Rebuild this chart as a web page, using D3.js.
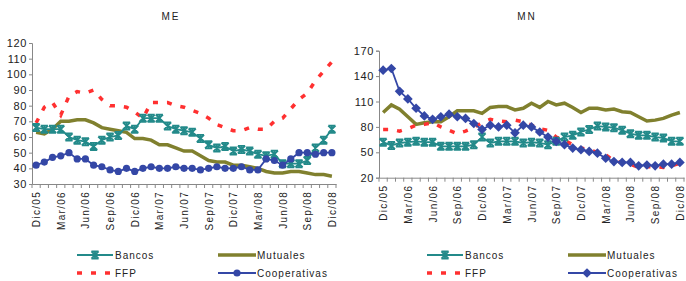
<!DOCTYPE html>
<html lang="es">
<head>
<meta charset="UTF-8">
<title>ME / MN</title>
<script src="https://cdn.jsdelivr.net/npm/d3@7/dist/d3.min.js"></script>
<style>
  body { margin: 0; background: #fff; }
  text { font-family: "Liberation Sans", Arial, sans-serif; fill: #222; }
</style>
</head>
<body>
<svg width="686" height="281"></svg>
<script>
// datos: meses Dic/05 .. Dic/08
var meses = ["Ene","Feb","Mar","Abr","May","Jun","Jul","Ago","Sep","Oct","Nov","Dic"];
var periodos = [];
for (var k = 0; k < 37; k++) {
  var m = (11 + k) % 12, a = 5 + Math.floor((11 + k) / 12);
  periodos.push(meses[m] + "/0" + a);
}
var series = ["Bancos", "Mutuales", "FFP", "Cooperativas"];

// ME
var meBancos = [66,65,65,65,60,58,57,54,58,60,61,67,65,72,72,72,67,65,64,63,59,55,53,54,51,52,51,49,48,49,43,43,43,45,53,58,65];
var meMutuales = [63,62,65,70,70,71,71,69,66,65,64,63,59,59,58,55,55,53,51,51,48,45,44,44,42,42,41,40,38,37,37,38,38,37,36,36,35];
var meFFP = [69,79,82,74,86,89,88,90,84,80,80,79,76,72,82,82,82,80,79,77,75,72,68,66,64,64,66,65,65,70,72,78,84,88,96,102,108];
var meCoop = [42,44,47,48,50,46,46,42,41,39,38,40,38,40,41,40,40,41,40,40,39,40,41,40,40,41,39,39,46,45,42,46,50,50,49,50,50];

// MN
var mnBancos = [62,58,61,62,63,62,62,57,57,57,57,59,68,61,63,63,63,61,62,61,59,63,68,70,74,77,81,80,79,76,72,70,70,68,67,63,63];
var mnMutuales = [97,106,101,92,83,85,86,86,92,99,99,99,96,103,104,104,100,102,108,103,110,106,108,103,97,102,102,100,101,98,97,92,87,88,90,94,97];
var mnFFP = [77,77,75,78,82,83,85,80,76,72,75,79,85,89,87,86,88,86,82,78,76,68,64,59,55,53,50,47,40,38,36,32,33,33,32,34,37];
var mnCoop = [147,149,122,113,102,93,89,92,95,92,90,84,77,82,80,82,73,82,80,74,68,63,59,55,53,51,49,43,39,38,38,34,35,34,36,36,38];

var ejeME = [30,40,50,60,70,80,90,100,110,120];
var ejeMN = [20,50,80,110,140,170];

var colores = {Bancos: "#238a8a", Mutuales: "#80802e", FFP: "#ff3030", Cooperativas: "#3447a6"};

var svg = d3.select("svg");

function estrella(s) {
  return "M" + (-s) + "," + (-s) + "L" + s + "," + s +
         "M" + (-s) + "," + s + "L" + s + "," + (-s) +
         "M0," + (-s) + "L0," + s +
         "M" + (-s) + "," + (-s) + "L" + s + "," + (-s) +
         "M" + (-s) + "," + s + "L" + s + "," + s;
}

function marcador(g, tipo, x, y) {
  if (tipo === "Bancos") {
    g.append("path").attr("d", estrella(3.6))
      .attr("transform", "translate(" + x + "," + y + ")")
      .attr("stroke", colores.Bancos).attr("stroke-width", 1.8).attr("fill", "none");
  } else if (tipo === "circulo") {
    g.append("circle").attr("cx", x).attr("cy", y).attr("r", 3.6)
      .attr("fill", colores.Cooperativas);
  } else if (tipo === "rombo") {
    g.append("path").attr("d", d3.symbol(d3.symbolDiamond2, 60)())
      .attr("transform", "translate(" + x + "," + y + ")")
      .attr("fill", colores.Cooperativas);
  }
}

function panel(cfg) {
  var g = svg.append("g");
  var x = d3.scaleBand().domain(periodos).range([cfg.x0, cfg.x1]).padding(0);
  var y = d3.scaleLinear().domain([cfg.ticks[0], cfg.ticks[cfg.ticks.length - 1]]).range([cfg.yb, cfg.yt]);
  var cx = function (i) { return x(periodos[i]) + x.bandwidth() / 2; };

  // titulo
  g.append("text").attr("x", cfg.tx).attr("y", 20).attr("text-anchor", "middle")
    .style("font-size", "10px").style("letter-spacing", "2px").text(cfg.titulo);

  // eje y
  var ay = g.append("g").attr("transform", "translate(" + cfg.x0 + ",0)")
    .call(d3.axisLeft(y).tickValues(cfg.ticks).tickSize(3).tickPadding(2));
  ay.select(".domain").attr("stroke", "#888");
  ay.selectAll(".tick line").attr("stroke", "#888");
  ay.selectAll("text").style("font-size", "11px").style("letter-spacing", "0.6px").attr("fill", "#222");

  // eje x
  var ax = g.append("g").attr("transform", "translate(0," + cfg.yb + ")")
    .call(d3.axisBottom(x).tickValues([]).tickSizeOuter(0));
  ax.select(".domain").attr("stroke", "#888");
  ax.selectAll(".tickm").data(periodos.concat(["fin"])).enter().append("line")
    .attr("x1", function (d, i) { return cfg.x0 + i * x.bandwidth(); })
    .attr("x2", function (d, i) { return cfg.x0 + i * x.bandwidth(); })
    .attr("y1", 0).attr("y2", 4).attr("stroke", "#888");
  ax.selectAll(".lbl").data(periodos.filter(function (d, i) { return i % 3 === 0; }))
    .enter().append("text")
    .attr("transform", function (d) { return "translate(" + (x(d) + x.bandwidth() / 2 + 4) + ",7) rotate(-90)"; })
    .attr("text-anchor", "end")
    .style("font-size", "10px").style("letter-spacing", "1.3px")
    .text(function (d) { return d; });

  var linea = d3.line().x(function (d, i) { return cx(i); }).y(function (d) { return y(d); });

  g.append("path").datum(cfg.mutuales).attr("d", linea).attr("fill", "none")
    .attr("stroke", colores.Mutuales).attr("stroke-width", 3.5);
  g.append("path").datum(cfg.ffp).attr("d", linea).attr("fill", "none")
    .attr("stroke", colores.FFP).attr("stroke-width", 3.5).attr("stroke-dasharray", "5,9");
  g.append("path").datum(cfg.bancos).attr("d", linea).attr("fill", "none")
    .attr("stroke", colores.Bancos).attr("stroke-width", 1.8);
  cfg.bancos.forEach(function (v, i) { marcador(g, "Bancos", cx(i), y(v)); });
  g.append("path").datum(cfg.coop).attr("d", linea).attr("fill", "none")
    .attr("stroke", colores.Cooperativas).attr("stroke-width", 1.8);
  cfg.coop.forEach(function (v, i) { marcador(g, cfg.coopMarca, cx(i), y(v)); });

  // leyenda
  var L = cfg.leyenda;
  var f1 = 255, f2 = 273;
  g.append("line").attr("x1", L[0]).attr("x2", L[0] + 36).attr("y1", f1).attr("y2", f1)
    .attr("stroke", colores.Bancos).attr("stroke-width", 1.8);
  marcador(g, "Bancos", L[0] + 18, f1);
  g.append("line").attr("x1", L[1]).attr("x2", L[1] + 38).attr("y1", f1).attr("y2", f1)
    .attr("stroke", colores.Mutuales).attr("stroke-width", 3.5);
  g.append("line").attr("x1", L[0]).attr("x2", L[0] + 36).attr("y1", f2).attr("y2", f2)
    .attr("stroke", colores.FFP).attr("stroke-width", 3.5).attr("stroke-dasharray", "5,9");
  g.append("line").attr("x1", L[1]).attr("x2", L[1] + 38).attr("y1", f2).attr("y2", f2)
    .attr("stroke", colores.Cooperativas).attr("stroke-width", 1.8);
  marcador(g, cfg.coopMarca, L[1] + 19, f2);
  [[L[0] + 38, f1, series[0]], [L[1] + 39, f1, series[1]], [L[0] + 38, f2, series[2]], [L[1] + 39, f2, series[3]]]
    .forEach(function (t) {
      g.append("text").attr("x", t[0]).attr("y", t[1] + 4)
        .style("font-size", "10px").style("letter-spacing", "1px").text(t[2]);
    });
}

panel({titulo: "ME", tx: 171, x0: 32, x1: 336, yb: 184, yt: 43, ticks: ejeME,
  bancos: meBancos, mutuales: meMutuales, ffp: meFFP, coop: meCoop, coopMarca: "circulo", leyenda: [77, 218]});
panel({titulo: "MN", tx: 527, x0: 379, x1: 684, yb: 177.7, yt: 50.7, ticks: ejeMN,
  bancos: mnBancos, mutuales: mnMutuales, ffp: mnFFP, coop: mnCoop, coopMarca: "rombo", leyenda: [427, 568]});
</script>
</body>
</html>
